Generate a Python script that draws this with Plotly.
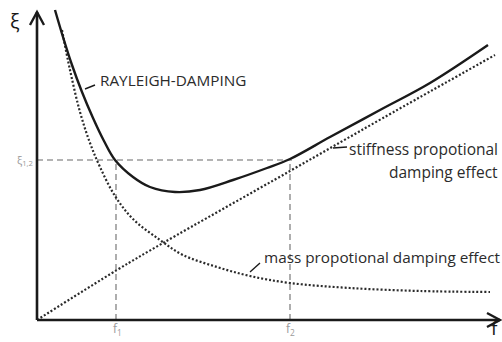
import plotly.graph_objects as go

# Diagram units: f to the right of the origin, xi above the f-axis (schematic)
rayleigh_f = [18, 26, 35, 45, 56, 67, 78, 96, 113, 138, 163, 196, 230, 253, 293, 343, 393, 451]
rayleigh_xi = [310, 283, 255, 228, 202, 179, 160, 143, 133, 128, 130, 140, 152, 161, 183, 210, 237, 275]

mass_f = [25, 33, 43, 53, 63, 78, 96, 123, 146, 180, 213, 253, 313, 383, 453]
mass_xi = [290, 250, 208, 177, 153, 124, 101, 80, 65, 53, 44, 37, 32, 29, 28]

stiff_f = [0, 80, 126, 253, 346, 458]
stiff_xi = [0, 50, 77, 149, 202, 265]

f1, f2, xi12 = 79, 253, 160

X_RANGE = [-37, 465]
Y_RANGE = [-22, 320]
FONT = "Open Sans"
INK = "#1a1a1a"
TXT = "#2b2b2b"
GREY = "#9a9a9a"

fig = go.Figure()

# reference dashed lines
fig.add_trace(go.Scatter(x=[0, f2 + 2], y=[xi12, xi12], mode="lines",
                         line=dict(color=GREY, width=1.6, dash="6px,4px"), hoverinfo="skip"))
for fv in (f1, f2):
    fig.add_trace(go.Scatter(x=[fv, fv], y=[0, xi12], mode="lines",
                             line=dict(color=GREY, width=1.6, dash="6px,4px"), hoverinfo="skip"))

fig.add_trace(go.Scatter(x=stiff_f, y=stiff_xi, mode="lines", line_shape="spline",
                         line=dict(color="#2a2a2a", width=2.2, dash="2px,2px")))
fig.add_trace(go.Scatter(x=mass_f, y=mass_xi, mode="lines", line_shape="spline",
                         line=dict(color="#2a2a2a", width=2.2, dash="2px,2px")))
fig.add_trace(go.Scatter(x=rayleigh_f, y=rayleigh_xi, mode="lines", line_shape="spline",
                         line=dict(color=INK, width=2.4)))

shapes = []
# axes
shapes.append(dict(type="line", x0=0, y0=0, x1=0, y1=308, line=dict(color=INK, width=2.6)))
shapes.append(dict(type="line", x0=0, y0=0, x1=463, y1=0, line=dict(color=INK, width=2.6)))
shapes.append(dict(type="path", path="M -7,295 L 0,308 L 7,295", line=dict(color=INK, width=2.4)))
shapes.append(dict(type="path", path="M 450,7 L 463,0 L 450,-7", line=dict(color=INK, width=2.4)))
# leaders
shapes.append(dict(type="line", x0=48, y0=231, x1=58, y1=235, line=dict(color=INK, width=1.4)))
shapes.append(dict(type="line", x0=296, y0=172, x1=310, y1=173, line=dict(color=INK, width=1.4)))
shapes.append(dict(type="line", x0=213, y0=48, x1=223, y1=57, line=dict(color=INK, width=1.4)))

ann = []
def txt(x, y, t, size, color=TXT, xa="center", ya="middle"):
    ann.append(dict(x=x, y=y, text=t, showarrow=False, xanchor=xa, yanchor=ya,
                    font=dict(family=FONT, size=size, color=color)))

txt(-22, 300, "ξ", 20, INK)
txt(458, -8, "f", 19, INK)
txt(-2, xi12, "ξ<sub>1,2</sub>", 11, GREY, xa="right")
txt(f1 + 1, -9, "f<sub>1</sub>", 12, GREY)
txt(f2, -9, "f<sub>2</sub>", 12, GREY)
txt(61, 240, "RAYLEIGH-DAMPING", 15.3, xa="left")
txt(463, 171, "stiffness propotional", 15.5, xa="right")
txt(463, 148, "damping effect", 15.5, xa="right")
txt(225, 63, "mass propotional damping effect", 15.3, xa="left")

fig.update_layout(
    width=502, height=342, margin=dict(l=0, r=0, t=0, b=0),
    paper_bgcolor="white", plot_bgcolor="white", showlegend=False,
    xaxis=dict(range=X_RANGE, visible=False, fixedrange=True),
    yaxis=dict(range=Y_RANGE, visible=False, fixedrange=True),
    shapes=shapes, annotations=ann,
)
fig.write_html("out.html", config={"displayModeBar": False},
               post_script="document.body.style.margin='0';document.body.style.overflow='hidden';")
